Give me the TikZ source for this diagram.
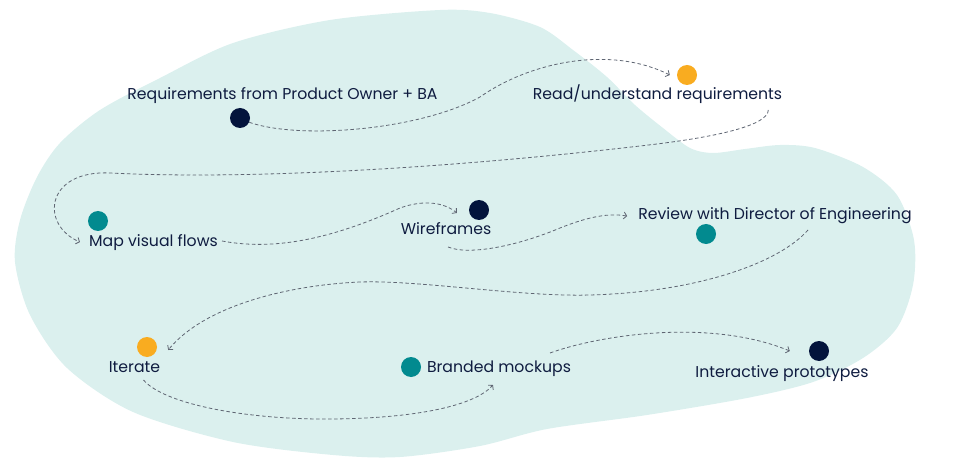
\documentclass[tikz,border=0pt]{standalone}
\usepackage{fontspec}
\setmainfont{Poppins}
\usetikzlibrary{arrows.meta}
\definecolor{blob}{HTML}{DBF0EE}
\definecolor{navy}{HTML}{03143C}
\definecolor{tealdot}{HTML}{028A8F}
\definecolor{orangedot}{HTML}{F9AC20}
\definecolor{txt}{HTML}{0F1C40}
\definecolor{lin}{HTML}{5F6673}
\begin{document}
\begin{tikzpicture}[x=1pt,y=-1pt,
  dotn/.style={circle,inner sep=0pt,minimum size=20pt,fill=#1},
  lbl/.style={anchor=base,inner sep=0pt,text=txt,font=\fontsize{15.7}{18}\selectfont},
  flow/.style={draw=lin,line width=0.8pt,dash pattern=on 3.5pt off 2.5pt,-{Straight Barb[length=3pt,width=7pt]}}]
\useasboundingbox (0,0) rectangle (960,470);
\fill[blob] plot[smooth cycle,tension=0.5] coordinates {
 (440,10) (490,13) (540,27) (573,50) (607,77) (635,105) (663,128) (690,148) (713,153) (745,149) (780,145) (815,148) (863,167) (897,195) (914,240)
 (913,285) (897,328) (863,358) (813,382) (747,398) (647,415) (547,429) (480,446) (400,457) (333,455)
 (233,442) (133,412) (67,368) (30,315) (15,262) (20,220) (37,177) (60,143) (100,110) (160,78) (233,43) (330,20)};
% dots
\node[dotn=navy] (req) at (240,118) {};
\node[dotn=orangedot] (read) at (687,75) {};
\node[dotn=tealdot] (map) at (98,221) {};
\node[dotn=navy] (wf) at (479,210) {};
\node[dotn=tealdot] (rev) at (706,234) {};
\node[dotn=orangedot] (it) at (147,347) {};
\node[dotn=tealdot] (brand) at (411,367) {};
\node[dotn=navy] (ip) at (819,351) {};
% labels
\node[lbl] (reqlbl) at (282.5,100) {Requirements from Product Owner + BA};
\node[lbl] (readlbl) at (657.5,100) {Read/understand requirements};
\node[lbl] (maplbl) at (153.5,247) {Map visual flows};
\node[lbl] (wflbl) at (446,234) {Wireframes};
\node[lbl] (revlbl) at (775,220) {Review with Director of Engineering};
\node[lbl] (itlbl) at (134.5,372) {Iterate};
\node[lbl] (brandlbl) at (499,372) {Branded mockups};
\node[lbl] (iplbl) at (782,377) {Interactive prototypes};
% connectors
\draw[flow] (req.-25) .. controls (300,140) and (420,130) .. (480,97)
   .. controls (530,62) and (610,45) .. ([xshift=-7pt]read.west);
\draw[flow] ([shift={(-14,10)}]readlbl.base east) .. controls (768,125) and (720,137) .. (640,146)
   .. controls (450,168) and (250,180) .. (110,173)
   .. controls (45,170) and (40,225) .. ([shift={(-9,-1)}]maplbl.west);
\draw[flow] ([shift={(4,-6)}]maplbl.base east) .. controls (280,252) and (340,235) .. (400,208)
   .. controls (425,199) and (445,203) .. ([shift={(-12,3)}]wf.west);
\draw[flow] ([shift={(2,13)}]wflbl.base) .. controls (470,256) and (520,245) .. (560,228)
   .. controls (590,216) and (610,213) .. ([xshift=-11pt]revlbl.west);
\draw[flow] ([shift={(33,10)}]revlbl.base) .. controls (780,262) and (700,292) .. (590,295)
   .. controls (520,297) and (420,280) .. (360,282)
   .. controls (290,285) and (205,305) .. ([shift={(11,3)}]it.east);
\draw[flow] ([shift={(9,8)}]itlbl.base) .. controls (165,405) and (250,420) .. (333,419)
   .. controls (420,418) and (475,405) .. ([shift={(-6,13)}]brandlbl.base);
\draw[flow] ([shift={(51,-19)}]brandlbl.base) .. controls (600,335) and (710,318) .. ([xshift=-19pt]ip.west);
\end{tikzpicture}
\end{document}
